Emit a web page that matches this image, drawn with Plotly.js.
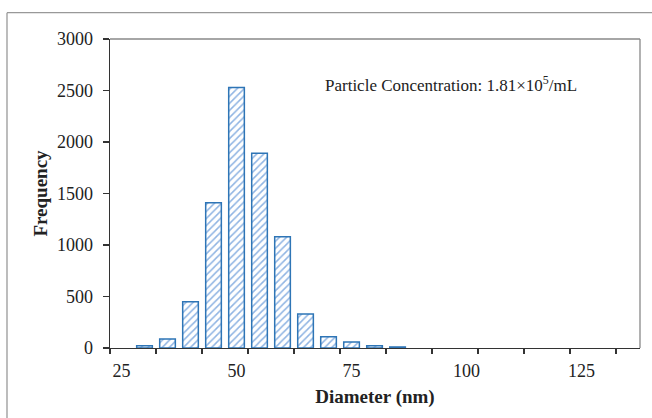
<!DOCTYPE html>
<html>
<head>
<meta charset="utf-8">
<script src="https://cdn.plot.ly/plotly-3.0.1.min.js"></script>
<style>
html,body{margin:0;padding:0;background:#fff;}
#chart{width:652px;height:418px;}
</style>
</head>
<body>
<div id="chart"></div>
<script>
const diameters = [30, 35, 40, 45, 50, 55, 60, 65, 70, 75, 80, 85];
const frequency = [22, 87, 450, 1410, 2530, 1890, 1080, 330, 110, 58, 22, 10];
const xTickVals = [25, 50, 75, 100, 125];
const xTickText = ['25', '50', '75', '100', '125'];
const xMinorTicks = [22.5, 32.5, 42.5, 52.5, 62.5, 72.5, 82.5, 92.5, 102.5, 112.5, 122.5, 132.5];
const yTickVals = [0, 500, 1000, 1500, 2000, 2500, 3000];
const concentrationLabel = 'Particle Concentration: 1.81×10<sup>5</sup>/mL';

const serif = 'Liberation Serif, Times New Roman, serif';
const L = 110, R = 640, T = 39.3, B = 348.3, W = 652, H = 418;
const px = v => (v - L) / (R - L);
const py = v => (B - v) / (B - T);

const trace = {
  type: 'bar',
  x: diameters,
  y: frequency,
  width: 3.4,
  marker: {
    color: 'white',
    line: {color: '#2e75b6', width: 1.5},
    pattern: {shape: '/', fgcolor: '#8fb4e3', bgcolor: 'white', size: 5, solidity: 0.3}
  },
  hoverinfo: 'x+y'
};

const tickTrace = {
  type: 'scatter', mode: 'markers', x: [30], y: [null], xaxis: 'x2', yaxis: 'y', showlegend: false, hoverinfo: 'skip'
};

const layout = {
  width: W, height: H,
  margin: {l: L, r: W - R, t: T, b: H - B},
  paper_bgcolor: 'white', plot_bgcolor: 'white',
  showlegend: false,
  font: {family: serif, size: 18, color: '#222'},
  xaxis: {
    range: [22.5, 137.7],
    tickmode: 'array', tickvals: xTickVals, ticktext: xTickText,
    ticks: '', showgrid: false, zeroline: false,
    showline: true, linecolor: '#333', linewidth: 1.3,
    ticklabelstandoff: 6,
    tickfont: {family: serif, size: 18, color: '#222'},
    title: {text: '<b>Diameter (nm)</b>', font: {family: serif, size: 19, color: '#222'}, standoff: 9}
  },
  xaxis2: {
    overlaying: 'x', side: 'bottom', range: [22.5, 137.7],
    tickmode: 'array', tickvals: xMinorTicks, ticks: 'outside', ticklen: 5, tickwidth: 1.3, tickcolor: '#333',
    showticklabels: false, showgrid: false, zeroline: false, showline: false
  },
  yaxis: {
    range: [0, 3000], tickmode: 'array', tickvals: yTickVals,
    ticks: 'outside', ticklen: 6, tickwidth: 1.3, tickcolor: '#333',
    showgrid: false, zeroline: false,
    showline: true, linecolor: '#333', linewidth: 1.3,
    ticklabelstandoff: 6,
    tickfont: {family: serif, size: 18, color: '#222'},
    title: {text: '<b>Frequency</b>', font: {family: serif, size: 19, color: '#222'}, standoff: 4}
  },
  shapes: [
    {type: 'line', xref: 'paper', yref: 'paper', x0: 0, x1: 1, y0: 1, y1: 1, line: {color: '#888', width: 1.3}},
    {type: 'line', xref: 'paper', yref: 'paper', x0: 1, x1: 1, y0: 0, y1: 1, line: {color: '#888', width: 1.3}},
    {type: 'line', xref: 'paper', yref: 'paper', x0: px(7), x1: px(7), y0: py(13), y1: py(430), line: {color: '#999', width: 1.3}},
    {type: 'line', xref: 'paper', yref: 'paper', x0: px(7), x1: px(660), y0: py(13), y1: py(13), line: {color: '#999', width: 1.3}}
  ],
  annotations: [
    {xref: 'paper', yref: 'paper', x: px(579), y: py(84), xanchor: 'right', yanchor: 'middle',
     text: concentrationLabel, showarrow: false, font: {family: serif, size: 17, color: '#222'}}
  ]
};

Plotly.newPlot('chart', [trace, tickTrace], layout, {displayModeBar: false, staticPlot: true});
</script>
</body>
</html>
